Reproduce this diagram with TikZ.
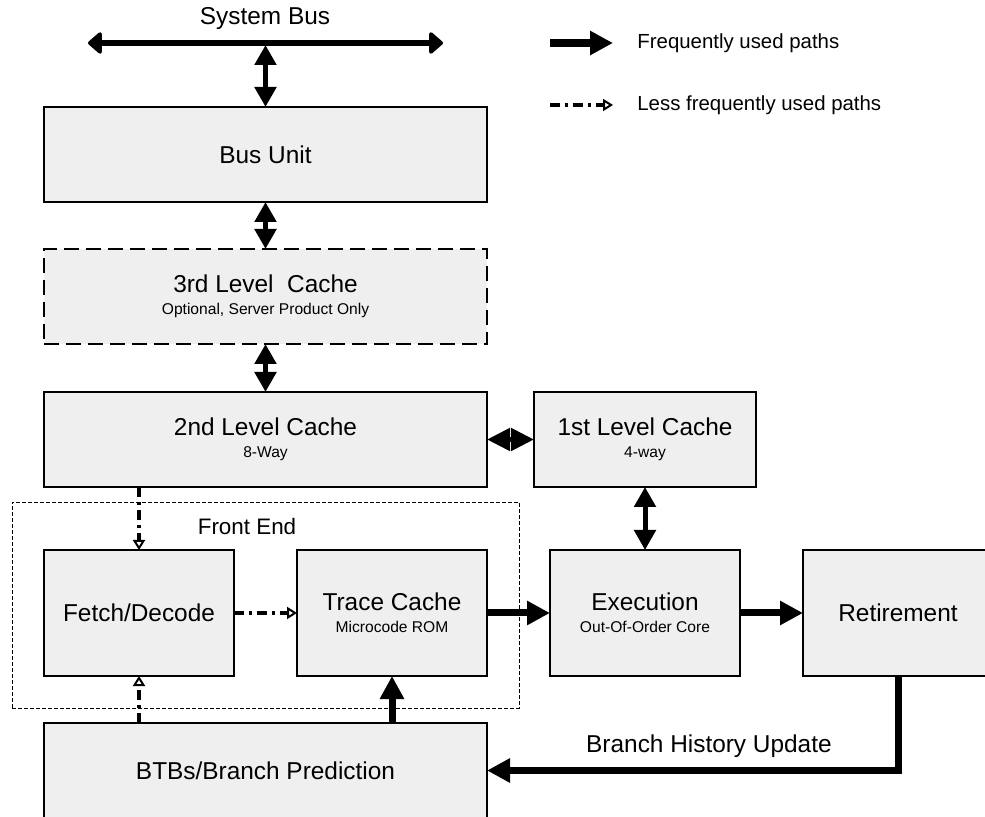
\documentclass[tikz,border=0pt]{standalone}
\usepackage{fontspec}
\setmainfont{Liberation Sans}
\usepackage{tikz}
\usetikzlibrary{arrows.meta}
\definecolor{boxgray}{RGB}{239,239,239}
\tikzset{unit/.style={draw, line width=1pt, fill=boxgray, inner sep=0pt, outer sep=0pt, align=center, font=\fontsize{12.2}{14}\selectfont}, wide/.style={unit, minimum width=221.5pt, minimum height=47.5pt}, half/.style={unit, minimum width=111pt, minimum height=47.5pt}, small/.style={unit, minimum width=95pt, minimum height=63pt}, optional/.style={dash pattern=on 7.5pt off 3.5pt}, frontbox/.style={draw, line width=0.4pt, dash pattern=on 2pt off 1pt, minimum width=253.5pt, minimum height=103pt, inner sep=0pt}, fast/.style={line width=3.5pt, -{Triangle[length=11.5pt,width=11.5pt]}}, slow/.style={line width=1.8pt, dash pattern=on 5pt off 2.5pt on 1.5pt off 2.5pt, -{Triangle[open,length=5pt,width=6pt,line width=1pt]}}, both/.style={line width=2.5pt, {Triangle[length=10pt,width=10.5pt]}-{Triangle[length=10pt,width=10.5pt]}}, bus/.style={line width=3pt, {Triangle[round,length=7.5pt,width=12.5pt]}-{Triangle[round,length=7.5pt,width=12.5pt]}}, plain/.style={inner sep=0pt, font=\fontsize{12.2}{14}\selectfont}, key/.style={inner sep=0pt, anchor=west, font=\fontsize{10.2}{12}\selectfont}}
\newcommand{\detail}[1]{\\[-3pt]{\fontsize{7.8}{9}\selectfont #1}}

\begin{document}
\begin{tikzpicture}[x=0.5pt,y=-0.5pt]
\useasboundingbox (0,0) rectangle (985,817);
%bus
\node[plain] (sysbus) at (265,19) {System Bus};
\coordinate (busL) at (88,43);
\coordinate (busR) at (443,43);
\coordinate (busM) at (265.5,45);
\draw[bus] (busL) -- (busR);
%boxes
\node[frontbox] (frontend) at (265.5,605) {};
\node[plain, font=\fontsize{11.2}{13}\selectfont] (frontlabel) at (247,526) {Front End};
\node[wide] (busunit) at (265.5,154.5) {Bus Unit};
\node[wide, optional] (l3) at (265.5,296.5) {3rd Level\ \ Cache\detail{Optional, Server Product Only}};
\node[wide] (l2) at (265.5,439.5) {2nd Level Cache\detail{8-Way}};
\node[half] (l1) at (645,439.5) {1st Level Cache\detail{4-way}};
\node[small] (fetch) at (139,613) {Fetch/Decode};
\node[small] (trace) at (392,613) {Trace Cache\detail{Microcode ROM}};
\node[small] (exec) at (645,613) {Execution\detail{Out-Of-Order Core}};
\node[small] (retire) at (898,613) {Retirement};
\node[wide] (btb) at (265.5,770.5) {BTBs/Branch Prediction};
%paths
\draw[both] (busM) -- (busunit.north);
\draw[both] (busunit.south) -- (l3.north);
\draw[both] (l3.south) -- (l2.north);
\draw[line width=2.5pt, {Triangle[length=11.5pt,width=11pt]}-{Triangle[length=11.5pt,width=11pt]}] (l2.east) -- (l1.west);
\draw[both] (l1.south) -- (exec.north);
\draw[slow] (fetch.north |- l2.south) -- (fetch.north);
\draw[slow] (fetch.east) -- (trace.west);
\draw[slow] (fetch.south |- btb.north) -- (fetch.south);
\draw[fast] (trace.east) -- (exec.west);
\draw[fast] (exec.east) -- (retire.west);
\draw[fast] (trace.south |- btb.north) -- (trace.south);
\draw[fast] (retire.south) |- node[plain, pos=0.73, above=4.5pt] (histlabel) {Branch History Update} (btb.east);
%legend
\coordinate (fastA) at (550,43);
\coordinate (fastB) at (613,43);
\coordinate (slowA) at (550,105);
\coordinate (slowB) at (613,105);
\draw[fast, line width=4pt] (fastA) -- (fastB);
\draw[slow] (slowA) -- (slowB);
\node[key] (fastkey) at (637,43) {Frequently used paths};
\node[key] (slowkey) at (637,105) {Less frequently used paths};
\end{tikzpicture}
\end{document}
